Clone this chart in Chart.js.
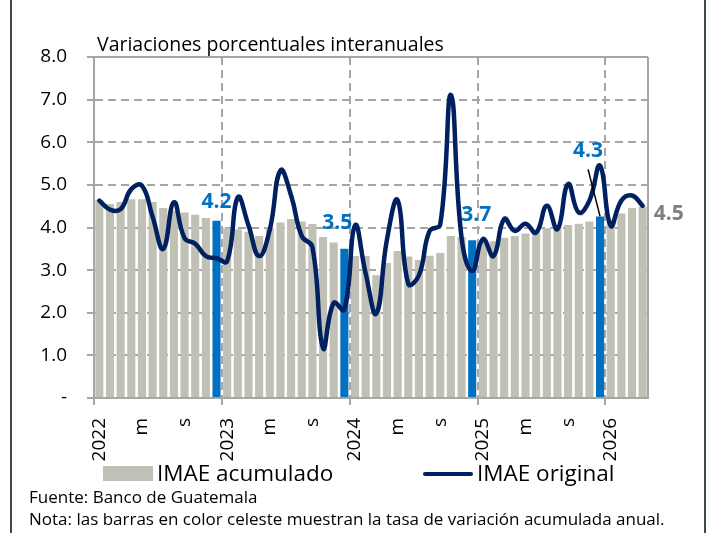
<!DOCTYPE html>
<html>
<head>
<meta charset="utf-8">
<script src="https://cdn.jsdelivr.net/npm/chart.js@4/dist/chart.umd.min.js"></script>
<style>
  body { margin: 0; background: #fff; }
  #wrap { position: relative; width: 710px; height: 533px; overflow: hidden; font-family: 'Open Sans', sans-serif; color: #000; }
  #frame { position: absolute; left: 10px; top: -2px; width: 692px; height: 540px; border-left: 2px solid #3b4a4a; border-right: 2px solid #3b4a4a; }
  canvas { position: absolute; left: 0; top: 0; }
  .txt { position: absolute; white-space: nowrap; line-height: 1; }
  #title { left: 97px; top: 34px; font-size: 19.5px; }
  .leg-box { position: absolute; left: 103px; top: 466px; width: 50px; height: 15px; background: #c0c1b4; }
  .leg-line { position: absolute; left: 423px; top: 472px; width: 50px; height: 4px; background: #002060; border-radius: 2px; }
  #leg1 { left: 157px; top: 462px; font-size: 22.5px; }
  #leg2 { left: 477px; top: 462px; font-size: 22.5px; }
  #src { left: 29px; top: 488px; font-size: 17px; }
  #note { left: 29px; top: 510px; font-size: 17px; }
</style>
</head>
<body>
<div id="wrap">
  <canvas id="imae" width="710" height="533"></canvas>
  <div id="frame"></div>
  <div class="txt" id="title">Variaciones porcentuales interanuales</div>
  <div class="leg-box"></div>
  <div class="txt" id="leg1">IMAE acumulado</div>
  <div class="leg-line"></div>
  <div class="txt" id="leg2">IMAE original</div>
  <div class="txt" id="src">Fuente: Banco de Guatemala</div>
  <div class="txt" id="note">Nota: las barras en color celeste muestran la tasa de variación acumulada anual.</div>
</div>
<script>
// months, Jan 2022 - Apr 2026 (year shown for January)
const categories = [
  '2022', 'f', 'm', 'a', 'm', 'j', 'j', 'a', 's', 'o', 'n', 'd',
  '2023', 'f', 'm', 'a', 'm', 'j', 'j', 'a', 's', 'o', 'n', 'd',
  '2024', 'f', 'm', 'a', 'm', 'j', 'j', 'a', 's', 'o', 'n', 'd',
  '2025', 'f', 'm', 'a', 'm', 'j', 'j', 'a', 's', 'o', 'n', 'd',
  '2026', 'f', 'm', 'a'
];

const imaeAcumulado = [
  4.65, 4.55, 4.60, 4.66, 4.66, 4.60, 4.46, 4.40, 4.35, 4.30, 4.22, 4.16,
  3.98, 3.96, 3.90, 3.80, 4.00, 4.12, 4.20, 4.14, 4.08, 3.78, 3.65, 3.50,
  3.33, 3.33, 2.88, 3.17, 3.45, 3.32, 3.24, 3.34, 3.40, 3.80, 3.78, 3.70,
  3.70, 3.68, 3.76, 3.80, 3.86, 3.91, 3.98, 4.00, 4.06, 4.09, 4.14, 4.26,
  4.18, 4.33, 4.46, 4.49
];

const imaeOriginal = [
  4.63, 4.42, 4.43, 4.90, 4.98, 4.25, 3.50, 4.59, 3.75, 3.62, 3.33, 3.28,
  3.21, 4.71, 4.05, 3.33, 3.95, 5.34, 4.75, 3.80, 3.54, 1.17, 2.23, 2.07,
  4.05, 2.92, 1.98, 3.72, 4.64, 2.68, 2.88, 3.92, 4.07, 7.11, 3.76, 2.98,
  3.73, 3.33, 4.20, 3.92, 4.09, 3.88, 4.51, 3.96, 5.02, 4.35, 4.63, 5.45,
  4.04, 4.63, 4.75, 4.51
];

const yTicks = [0, 1, 2, 3, 4, 5, 6, 7, 8];

const GRAY = '#c0c1b4';
const BLUE = '#0070c0';
const NAVY = '#002060';
const GRID = '#a6a6a6';

const isDec = i => i % 12 === 11;
const lastIdx = imaeAcumulado.length - 1;

// value labels on the December bars and on the last bar (placed like the original)
const labelPlacement = {
  11: { dx: 0, dy: -19, color: BLUE },
  23: { dx: -7, dy: -26, color: BLUE },
  35: { dx: 4, dy: -25, color: BLUE },
  47: { dx: -12, dy: -65, color: BLUE, leader: true },
  [lastIdx]: { dx: 26, dy: 7, color: '#7f7f7f' }
};

const barLabels = {
  id: 'barLabels',
  afterDatasetsDraw(chart) {
    const { ctx } = chart;
    const meta = chart.getDatasetMeta(1);
    ctx.save();
    ctx.font = 'bold 21px "Open Sans", sans-serif';
    ctx.textAlign = 'center';
    ctx.textBaseline = 'middle';
    Object.keys(labelPlacement).forEach(k => {
      const i = +k;
      const p = labelPlacement[i];
      const bar = meta.data[i];
      const x = bar.x + p.dx;
      const y = bar.y + p.dy;
      if (p.leader) {
        ctx.strokeStyle = '#000';
        ctx.lineWidth = 1.5;
        ctx.beginPath();
        ctx.moveTo(x, y + 18);
        ctx.lineTo(bar.x, bar.y);
        ctx.stroke();
      }
      ctx.fillStyle = p.color;
      ctx.fillText(imaeAcumulado[i].toFixed(1), x, y);
    });
    ctx.restore();
  }
};

new Chart(document.getElementById('imae'), {
  data: {
    labels: categories,
    datasets: [
      {
        type: 'line',
        label: 'IMAE original',
        data: imaeOriginal,
        borderColor: NAVY,
        borderWidth: 4.5,
        pointRadius: 0,
        tension: 0.45,
        borderCapStyle: 'round',
        borderJoinStyle: 'round',
        order: 0
      },
      {
        type: 'bar',
        label: 'IMAE acumulado',
        data: imaeAcumulado,
        backgroundColor: imaeAcumulado.map((v, i) => isDec(i) ? BLUE : GRAY),
        barPercentage: 0.76,
        categoryPercentage: 1,
        order: 1
      }
    ]
  },
  options: {
    responsive: false,
    animation: false,
    devicePixelRatio: 1,
    layout: { padding: { left: 0, top: 57, right: 62, bottom: 65 } },
    plugins: {
      legend: { display: false },
      tooltip: { enabled: false }
    },
    scales: {
      x: {
        offset: true,
        grid: {
          offset: true,
          drawTicks: true,
          tickLength: 7,
          lineWidth: 2,
          tickWidth: 2,
          color: c => c.index === undefined ? GRID : (c.index > 0 && c.index % 12 === 0 ? GRID : 'rgba(0,0,0,0)'),
          tickColor: c => (c.index !== undefined && c.index % 12 === 0) ? GRID : 'rgba(0,0,0,0)',
          tickBorderDash: []
        },
        border: {
          display: true,
          color: GRID,
          width: 2,
          dash: c => c.index === undefined ? [] : [8, 5]
        },
        ticks: {
          autoSkip: false,
          minRotation: 90,
          maxRotation: 90,
          padding: 13,
          color: '#000',
          font: { family: '"Open Sans", sans-serif', size: 19 },
          callback: (v, i) => i % 4 === 0 ? categories[i] : ''
        },
        afterFit: s => { s.height = 70; }
      },
      y: {
        min: 0,
        max: 8,
        afterBuildTicks: s => { s.ticks = yTicks.map(v => ({ value: v })); },
        grid: {
          lineWidth: 2,
          tickLength: 7,
          tickWidth: 2,
          color: c => c.tick && c.tick.value === 0 ? 'rgba(0,0,0,0)' : GRID,
          tickColor: GRID,
          tickBorderDash: []
        },
        border: {
          display: true,
          color: GRID,
          width: 2,
          dash: c => (c.tick && c.tick.value === 8) ? [] : [8, 5]
        },
        ticks: {
          padding: 20,
          color: '#000',
          font: { family: '"Open Sans", sans-serif', size: 19 },
          callback: v => v === 0 ? '-' : v.toFixed(1)
        },
        afterFit: s => { s.width = 94; }
      }
    }
  },
  plugins: [barLabels]
});
</script>
</body>
</html>
